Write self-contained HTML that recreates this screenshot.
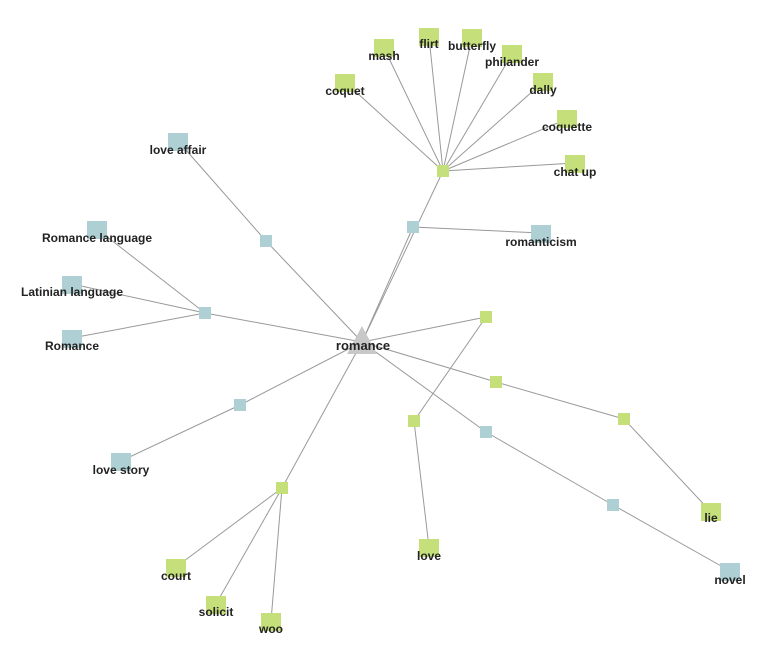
<!DOCTYPE html>
<html><head><meta charset="utf-8"><style>
html,body{margin:0;padding:0;background:#fff;}
svg{display:block;}
text{font-family:"Liberation Sans",Arial,sans-serif;font-size:12px;font-weight:bold;fill:#222;text-anchor:middle;}
</style></head><body>
<svg width="761" height="650" viewBox="0 0 761 650">
<g stroke="#999" stroke-width="1" fill="none">
<line x1="362" y1="342" x2="443" y2="171"/>
<line x1="362" y1="342" x2="413" y2="227"/>
<line x1="362" y1="342" x2="266" y2="241"/>
<line x1="362" y1="342" x2="205" y2="313"/>
<line x1="362" y1="342" x2="486" y2="317"/>
<line x1="362" y1="342" x2="496" y2="382"/>
<line x1="362" y1="342" x2="486" y2="432"/>
<line x1="362" y1="342" x2="240" y2="405"/>
<line x1="362" y1="342" x2="282" y2="488"/>
<line x1="443" y1="171" x2="384" y2="48"/>
<line x1="443" y1="171" x2="429" y2="37"/>
<line x1="443" y1="171" x2="472" y2="37"/>
<line x1="443" y1="171" x2="512" y2="54"/>
<line x1="443" y1="171" x2="543" y2="82"/>
<line x1="443" y1="171" x2="345" y2="82"/>
<line x1="443" y1="171" x2="567" y2="119"/>
<line x1="443" y1="171" x2="575" y2="163"/>
<line x1="413" y1="227" x2="541" y2="233"/>
<line x1="266" y1="241" x2="178" y2="141"/>
<line x1="205" y1="313" x2="97" y2="229"/>
<line x1="205" y1="313" x2="72" y2="284"/>
<line x1="205" y1="313" x2="72" y2="338"/>
<line x1="486" y1="317" x2="414" y2="421"/>
<line x1="414" y1="421" x2="429" y2="547"/>
<line x1="496" y1="382" x2="624" y2="419"/>
<line x1="624" y1="419" x2="711" y2="512"/>
<line x1="486" y1="432" x2="613" y2="505"/>
<line x1="613" y1="505" x2="730" y2="571"/>
<line x1="240" y1="405" x2="121" y2="461"/>
<line x1="282" y1="488" x2="176" y2="567"/>
<line x1="282" y1="488" x2="216" y2="604"/>
<line x1="282" y1="488" x2="271" y2="621"/>
</g>
<g fill="#c5e07a">
<rect x="437" y="165" width="12" height="12"/>
<rect x="480" y="311" width="12" height="12"/>
<rect x="490" y="376" width="12" height="12"/>
<rect x="618" y="413" width="12" height="12"/>
<rect x="408" y="415" width="12" height="12"/>
<rect x="276" y="482" width="12" height="12"/>
<rect x="374" y="39" width="20" height="18"/>
<rect x="419" y="28" width="20" height="18"/>
<rect x="462" y="29" width="20" height="18"/>
<rect x="502" y="45" width="20" height="18"/>
<rect x="533" y="73" width="20" height="18"/>
<rect x="335" y="74" width="20" height="18"/>
<rect x="557" y="110" width="20" height="18"/>
<rect x="565" y="155" width="20" height="18"/>
<rect x="166" y="559" width="20" height="18"/>
<rect x="206" y="596" width="20" height="18"/>
<rect x="261" y="613" width="20" height="18"/>
<rect x="419" y="539" width="20" height="18"/>
<rect x="701" y="503" width="20" height="18"/>
</g>
<g fill="#aecfd3">
<rect x="407" y="221" width="12" height="12"/>
<rect x="260" y="235" width="12" height="12"/>
<rect x="199" y="307" width="12" height="12"/>
<rect x="480" y="426" width="12" height="12"/>
<rect x="234" y="399" width="12" height="12"/>
<rect x="607" y="499" width="12" height="12"/>
<rect x="168" y="133" width="20" height="18"/>
<rect x="531" y="225" width="20" height="18"/>
<rect x="87" y="221" width="20" height="18"/>
<rect x="62" y="276" width="20" height="18"/>
<rect x="62" y="330" width="20" height="18"/>
<rect x="111" y="453" width="20" height="18"/>
<rect x="720" y="563" width="20" height="18"/>
</g>
<polygon points="362,326 347,354 377,354" fill="#c8c8c8"/>
<text x="363" y="350" style="font-size:13px">romance</text>
<text x="384" y="60">mash</text>
<text x="429" y="48">flirt</text>
<text x="472" y="50">butterfly</text>
<text x="512" y="66">philander</text>
<text x="543" y="94">dally</text>
<text x="345" y="95">coquet</text>
<text x="567" y="131">coquette</text>
<text x="575" y="176">chat up</text>
<text x="178" y="154">love affair</text>
<text x="541" y="246">romanticism</text>
<text x="97" y="242">Romance language</text>
<text x="72" y="296">Latinian language</text>
<text x="72" y="350">Romance</text>
<text x="121" y="474">love story</text>
<text x="176" y="580">court</text>
<text x="216" y="616">solicit</text>
<text x="271" y="633">woo</text>
<text x="429" y="560">love</text>
<text x="711" y="522">lie</text>
<text x="730" y="584">novel</text>
</svg>
</body></html>
